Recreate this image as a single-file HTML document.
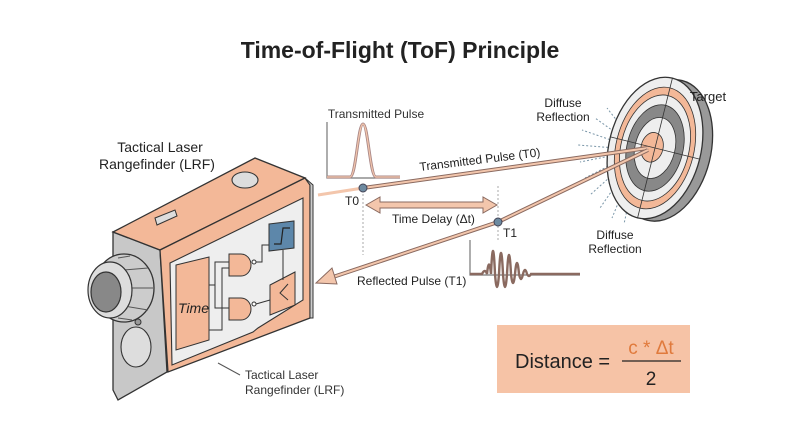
<!DOCTYPE html>
<html><head><meta charset="utf-8"><style>
body{margin:0;background:#fff}
svg{display:block;font-family:"Liberation Sans",sans-serif}
</style></head><body>
<svg width="800" height="447" viewBox="0 0 800 447">
<rect width="800" height="447" fill="#fff"/>
<text x="400" y="58" text-anchor="middle" font-size="23" font-weight="bold" fill="#222">Time-of-Flight (ToF) Principle</text>

<!-- transmitted pulse graph -->
<text x="376" y="118" text-anchor="middle" font-size="12" fill="#333">Transmitted Pulse</text>
<polyline points="327,122 327,178 400,178" fill="none" stroke="#777" stroke-width="1.2"/>
<path d="M327,177 L350,177 C356,177 358,124 363,124 C368,124 370,177 376,177 L400,177" fill="none" stroke="#a88" stroke-width="3"/>
<path d="M327,177 L350,177 C356,177 358,124 363,124 C368,124 370,177 376,177 L400,177" fill="none" stroke="#f3c6ac" stroke-width="1.2"/>

<!-- dotted verticals -->
<line x1="363" y1="190" x2="363" y2="255" stroke="#aaa" stroke-dasharray="2,2"/>
<line x1="498" y1="186" x2="498" y2="240" stroke="#aaa" stroke-dasharray="2,2"/>

<!-- diffuse lines -->
<g stroke="#7a96a8" stroke-width="1" stroke-dasharray="2,2">
<line x1="640" y1="150" x2="582" y2="130"/><line x1="640" y1="150" x2="578" y2="145"/>
<line x1="640" y1="150" x2="580" y2="162"/><line x1="640" y1="150" x2="585" y2="178"/>
<line x1="640" y1="150" x2="590" y2="195"/><line x1="640" y1="150" x2="600" y2="208"/>
<line x1="640" y1="150" x2="612" y2="218"/><line x1="640" y1="150" x2="624" y2="224"/>
<line x1="640" y1="150" x2="595" y2="118"/><line x1="640" y1="150" x2="607" y2="108"/>
</g>

<!-- target -->
<g transform="rotate(14 655 148)">
<ellipse cx="665" cy="148" rx="46" ry="72" fill="#999" stroke="#333" stroke-width="1.3"/>
<ellipse cx="655" cy="148" rx="46" ry="72" fill="#eee" stroke="#333" stroke-width="1.3"/>
<ellipse cx="655" cy="148" rx="39" ry="62" fill="#f3b898" stroke="#333" stroke-width="0.8"/>
<ellipse cx="655" cy="148" rx="34" ry="54" fill="#eee" stroke="#333" stroke-width="0.8"/>
<ellipse cx="655" cy="148" rx="28" ry="44" fill="#888" stroke="#333" stroke-width="0.8"/>
<ellipse cx="655" cy="148" rx="20" ry="31" fill="#eee" stroke="#333" stroke-width="0.8"/>
<ellipse cx="652" cy="148" rx="11" ry="15" fill="#f3b898" stroke="#333" stroke-width="0.8"/>
<line x1="655" y1="76" x2="655" y2="220" stroke="#333" stroke-width="0.8"/>
<line x1="609" y1="148" x2="701" y2="148" stroke="#333" stroke-width="0.8"/>
</g>

<!-- beams -->
<line x1="318" y1="195" x2="363" y2="188" stroke="#f3c6ac" stroke-width="3"/>
<line x1="363" y1="188" x2="648" y2="148" stroke="#8a6a60" stroke-width="4"/>
<line x1="363" y1="188" x2="648" y2="148" stroke="#f3c6ac" stroke-width="2"/>
<polyline points="648,150 498,222 330,278" fill="none" stroke="#8a6a60" stroke-width="4"/>
<polyline points="648,150 498,222 330,278" fill="none" stroke="#f3c6ac" stroke-width="2"/>
<polygon points="316,283 332,268 337,284" fill="#f3c6ac" stroke="#8a6a60" stroke-width="1"/>
<circle cx="363" cy="188" r="4" fill="#6d8aa0" stroke="#445" stroke-width="1"/>
<circle cx="498" cy="222" r="4" fill="#6d8aa0" stroke="#445" stroke-width="1"/>
<text x="420" y="171" font-size="12" fill="#222" transform="rotate(-7 420 171)">Transmitted Pulse (T0)</text>
<text x="345" y="205" font-size="12" fill="#222">T0</text>
<text x="503" y="237" font-size="12" fill="#222">T1</text>

<!-- time delay arrow -->
<polygon points="366,205 380,197 380,202 483,202 483,197 497,205 483,213 483,208 380,208 380,213" fill="#f3c6ac" stroke="#8a6a60" stroke-width="1"/>
<text x="392" y="223" font-size="12" fill="#222">Time Delay (Δt)</text>
<text x="357" y="285" font-size="12" fill="#222">Reflected Pulse (T1)</text>

<!-- reflected wave -->
<polyline points="470,240 470,275 580,275" fill="none" stroke="#777" stroke-width="1.2"/>
<path d="M470,274 L482,274 Q485,268 487,274 Q489,255 491,274 Q493,228 495,274 Q497,300 499,274 Q501,232 503,274 Q505,300 507,274 Q509,236 511,274 Q513,292 515,274 Q517,252 519,274 Q521,284 523,274 Q525,266 527,274 Q529,278 531,274 L580,274" fill="none" stroke="#8a6a60" stroke-width="2.4"/>

<text x="708" y="101" text-anchor="middle" font-size="13" fill="#222">Target</text>
<text x="563" y="107" text-anchor="middle" font-size="12" fill="#222">Diffuse</text>
<text x="563" y="121" text-anchor="middle" font-size="12" fill="#222">Reflection</text>
<text x="615" y="239" text-anchor="middle" font-size="12" fill="#222">Diffuse</text>
<text x="615" y="253" text-anchor="middle" font-size="12" fill="#222">Reflection</text>

<!-- device -->
<text x="160" y="152" text-anchor="middle" font-size="14" fill="#222">Tactical Laser</text>
<text x="157" y="169" text-anchor="middle" font-size="14" fill="#222">Rangefinder (LRF)</text>
<polygon points="113,232 160,250 167,372 118,400 113,390" fill="#c8c8c8" stroke="#333" stroke-width="1.3"/>
<polygon points="113,232 255,158 305,178 160,250" fill="#f3b898" stroke="#333" stroke-width="1.3"/>
<polygon points="160,250 305,178 310,185 310,318 168,372" fill="#f3b898" stroke="#333" stroke-width="1.3"/>
<polygon points="305,178 313,185 313,318 310,318 310,185" fill="#ccc" stroke="#333" stroke-width="1"/>
<polygon points="170,263 303,198 303,300 258,328 253,332 172,365" fill="#eee" stroke="#333" stroke-width="1.1"/>
<polygon points="176,265 209,257 209,340 176,350" fill="#f3b898" stroke="#333"/>
<text x="178" y="313" font-size="14" font-style="italic" fill="#222">Time</text>
<g stroke="#333" stroke-width="1" fill="#f3b898">
<path d="M229,254 h12 a10,11 0 0 1 0,22 h-12 z"/>
<path d="M229,298 h12 a10,11 0 0 1 0,22 h-12 z"/>
<circle cx="254" cy="262" r="2" fill="#fff"/>
<circle cx="254" cy="304" r="2" fill="#fff"/>
<polygon points="270,285 295,272 295,305 270,315"/>
</g>
<polyline points="288,284 280,293 288,300" fill="none" stroke="#333"/>
<g stroke="#333" stroke-width="1" fill="none">
<polyline points="209,285 215,285 215,262 229,262"/><polyline points="215,285 215,308 229,308"/>
<polyline points="209,330 222,330 222,268 229,268"/><polyline points="256,262 262,262 262,245 270,245"/>
<polyline points="256,304 270,300"/><line x1="283" y1="250" x2="283" y2="280"/>
</g>
<polygon points="269,224 294,221 294,248 269,251" fill="#5d87aa" stroke="#333"/>
<polyline points="274,244 281,244 283,228 290,228" fill="none" stroke="#222" stroke-width="1.2"/>
<ellipse cx="245" cy="180" rx="13" ry="8" fill="#ddd" stroke="#333" stroke-width="1.1"/>
<polygon points="155,218 175,210 177,216 157,225" fill="#ddd" stroke="#333"/>
<!-- lens -->
<ellipse cx="124" cy="288" rx="30" ry="34" fill="#ccc" stroke="#333" stroke-width="1.3"/>
<g stroke="#555" stroke-width="1"><line x1="118" y1="258" x2="130" y2="256"/><line x1="124" y1="270" x2="148" y2="268"/><line x1="126" y1="288" x2="153" y2="288"/><line x1="124" y1="306" x2="148" y2="310"/><line x1="118" y1="318" x2="132" y2="320"/></g>
<ellipse cx="110" cy="290" rx="22" ry="28" fill="#ddd" stroke="#333" stroke-width="1.2"/>
<ellipse cx="106" cy="292" rx="15" ry="20" fill="#888" stroke="#333" stroke-width="1.2"/>
<ellipse cx="136" cy="347" rx="15" ry="20" fill="#ddd" stroke="#333" stroke-width="1.1"/>
<circle cx="138" cy="322" r="3" fill="#999" stroke="#333"/>
<line x1="218" y1="363" x2="240" y2="375" stroke="#555"/>
<text x="245" y="379" font-size="12" fill="#333">Tactical Laser</text>
<text x="245" y="394" font-size="12" fill="#333">Rangefinder (LRF)</text>

<!-- formula -->
<rect x="497" y="325" width="193" height="68" fill="#f6c3a6"/>
<text x="515" y="368" font-size="20" fill="#222">Distance =</text>
<text x="651" y="354" text-anchor="middle" font-size="19" fill="#e07a3c">c * Δt</text>
<line x1="622" y1="361" x2="681" y2="361" stroke="#222" stroke-width="1.3"/>
<text x="651" y="385" text-anchor="middle" font-size="19" fill="#222">2</text>
</svg>
</body></html>
